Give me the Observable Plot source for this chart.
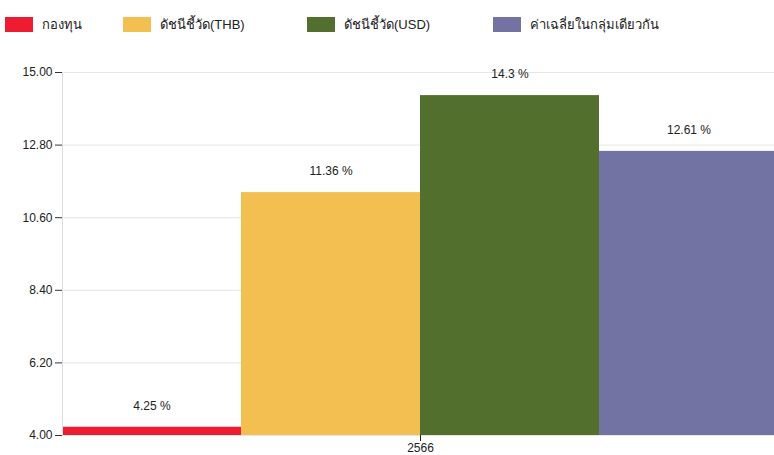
<!DOCTYPE html>
<html>
<head>
<meta charset="utf-8">
<script src="https://cdn.jsdelivr.net/npm/d3@7"></script>
<script src="https://cdn.jsdelivr.net/npm/@observablehq/plot@0.6"></script>
<style>
  html, body { margin: 0; background: #fff; overflow: hidden; font-family: "Liberation Sans", "DejaVu Sans", Arial, sans-serif; }
  #legend { position: relative; height: 45px; font-size: 13px; color: #222; }
  .item { position: absolute; top: 14px; display: flex; align-items: center; }
  .sw { width: 28px; height: 15px; margin-right: 9px; }
  #chart { width: 774px; overflow: hidden; }
</style>
</head>
<body>
<div id="legend"></div>
<div id="chart"></div>
<script>
const year = "2566";
const series = ["กองทุน", "ดัชนีชี้วัด(THB)", "ดัชนีชี้วัด(USD)", "ค่าเฉลี่ยในกลุ่มเดียวกัน"];
const values = [4.25, 11.36, 14.3, 12.61];
const colors = ["#ee1c30", "#f2bf50", "#536f2d", "#7373a3"];
const yTicks = [4.0, 6.2, 8.4, 10.6, 12.8, 15.0];

const data = series.map((s, i) => ({year, series: s, value: values[i]}));

// legend
const legendX = [5, 123, 307, 493];
const legend = document.getElementById("legend");
series.forEach((s, i) => {
  const it = document.createElement("div");
  it.className = "item";
  it.style.left = legendX[i] + "px";
  it.innerHTML = `<span class="sw" style="background:${colors[i]}"></span><span>${s}</span>`;
  legend.appendChild(it);
});

const chart = Plot.plot({
  width: 778,
  height: 410,
  marginTop: 27,
  marginBottom: 20,
  marginLeft: 62,
  marginRight: 0,
  style: {fontFamily: "Liberation Sans, DejaVu Sans, Arial, sans-serif", fontSize: "12px", color: "#222", maxWidth: "none"},
  fx: {domain: [year], padding: 0, label: null},
  x: {domain: series, padding: 0, axis: null},
  y: {domain: [4, 15], label: null},
  color: {domain: series, range: colors},
  marks: [
    Plot.gridY(yTicks, {stroke: "#e6e6e6", strokeOpacity: 1}),
    Plot.barY(data, {fx: "year", x: "series", y1: 4, y2: "value", fill: "series"}),
    Plot.text(data, {fx: "year", x: "series", y: "value", text: d => `${d.value} %`, dy: -21, fill: "#222", fontSize: 12}),
    Plot.frame({anchor: "left", stroke: "#ddd"}),
    Plot.axisY({ticks: yTicks, tickFormat: d3.format(".2f"), tickSize: 7, tickPadding: 3, stroke: "#333", label: null}),
    Plot.axisFx({anchor: "bottom", tickSize: 6, tickPadding: 2, label: null})
  ]
});
document.getElementById("chart").appendChild(chart);
</script>
</body>
</html>
